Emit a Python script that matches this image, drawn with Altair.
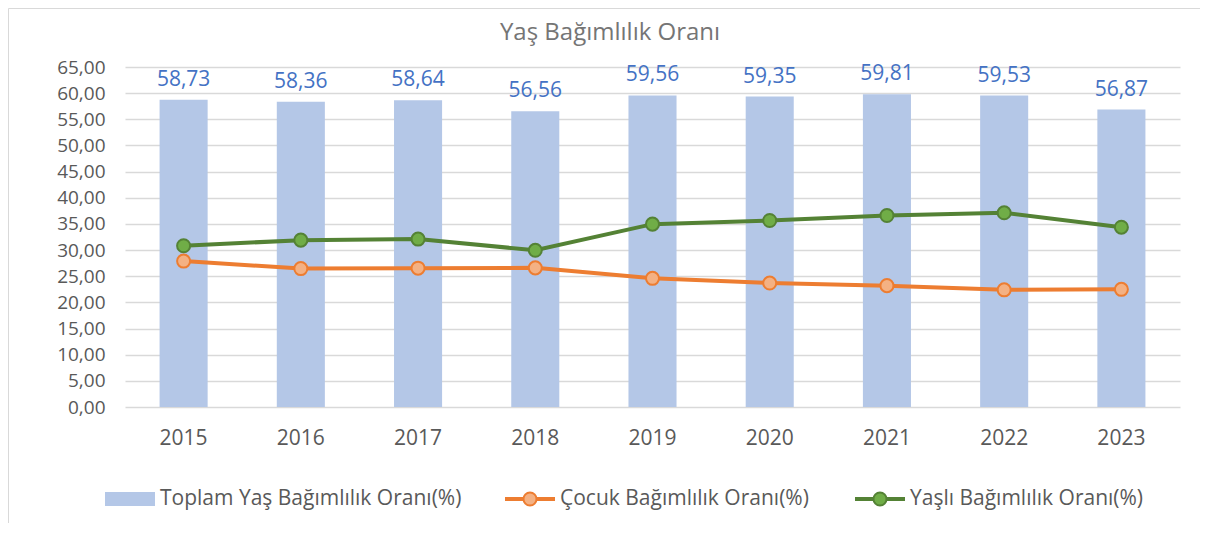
import altair as alt
import pandas as pd

years = ["2015", "2016", "2017", "2018", "2019", "2020", "2021", "2022", "2023"]
total = [58.73, 58.36, 58.64, 56.56, 59.56, 59.35, 59.81, 59.53, 56.87]
child = [27.90, 26.46, 26.54, 26.60, 24.60, 23.70, 23.20, 22.40, 22.50]
elderly = [30.83, 31.90, 32.10, 29.96, 34.96, 35.65, 36.61, 37.13, 34.37]
series_names = ["Toplam Yaş Bağımlılık Oranı(%)", "Çocuk Bağımlılık Oranı(%)", "Yaşlı Bağımlılık Oranı(%)"]
title_text = ["Yaş Bağımlılık Oranı"]
y_ticks = list(range(0, 66, 5))

FONT = "Open Sans"
GRAY = "#595959"
BAR = "#B4C7E7"
BLUE = "#4472C4"
ORANGE = "#ED7D31"
ORANGE_L = "#F4B183"
GREEN = "#548235"
GREEN_L = "#70AD47"

df = pd.DataFrame({"year": years, "total": total, "child": child, "elderly": elderly})
df["label"] = [f"{v:.2f}".replace(".", ",") for v in total]

W, H = 1055, 340

x_scale = alt.Scale(paddingInner=0.59, paddingOuter=0.295)
x_axis = alt.Axis(title=None, labelFontSize=21, labelColor=GRAY, labelFont=FONT,
                  labelPadding=20, ticks=False, domain=False, labelAngle=0, grid=False)
y_scale = alt.Scale(domain=[0, 65], nice=False)
y_axis = alt.Axis(title=None, values=y_ticks, labelFontSize=19, labelColor=GRAY, labelFont=FONT,
                  labelPadding=20, ticks=False, domain=False, grid=True, gridColor="#D9D9D9",
                  gridWidth=1.5, labelOverlap=False, labelBaseline="middle",
                  labelExpr="replace(format(datum.value, '.2f'), '.', ',')")

def xe():
    return alt.X("year:N", scale=x_scale, axis=x_axis)

def ye(field):
    return alt.Y(f"{field}:Q", scale=y_scale, axis=y_axis)

base = alt.Chart(df)

bars = base.mark_bar(color=BAR).encode(x=xe(), y=ye("total"))

bar_labels = base.mark_text(color=BLUE, fontSize=21, font=FONT, baseline="bottom", dy=-10).encode(
    x=xe(), y=ye("total"), text="label:N")

child_line = base.mark_line(color=ORANGE, strokeWidth=4).encode(x=xe(), y=ye("child"))
child_pts = base.mark_point(shape="circle", filled=True, fill=ORANGE_L, stroke=ORANGE,
                            strokeWidth=2, size=170, opacity=1).encode(x=xe(), y=ye("child"))
eld_line = base.mark_line(color=GREEN, strokeWidth=4).encode(x=xe(), y=ye("elderly"))
eld_pts = base.mark_point(shape="circle", filled=True, fill=GREEN_L, stroke=GREEN,
                          strokeWidth=2, size=170, opacity=1).encode(x=xe(), y=ye("elderly"))

# Title as text
tdf = pd.DataFrame({"t": title_text})
title = alt.Chart(tdf).mark_text(fontSize=24, font=FONT, color="#757575", align="center",
                                 baseline="middle").encode(
    x=alt.value(485), y=alt.value(-34), text="t:N")

# Manual legend
leg = pd.DataFrame({"name": series_names})
LY = 432
leg_rect = alt.Chart(leg.iloc[[0]]).mark_rect(color=BAR).encode(
    x=alt.value(-20), x2=alt.value(30), y=alt.value(LY - 7), y2=alt.value(LY + 7))
leg_t1 = alt.Chart(leg.iloc[[0]]).mark_text(align="left", baseline="middle", fontSize=21,
                                            font=FONT, color=GRAY).encode(
    x=alt.value(35), y=alt.value(LY), text="name:N")
leg_l2 = alt.Chart(leg.iloc[[1]]).mark_rule(color=ORANGE, strokeWidth=4).encode(
    x=alt.value(380), x2=alt.value(430), y=alt.value(LY))
leg_p2 = alt.Chart(leg.iloc[[1]]).mark_point(shape="circle", filled=True, fill=ORANGE_L, stroke=ORANGE,
                                             strokeWidth=2, size=170, opacity=1).encode(
    x=alt.value(405), y=alt.value(LY))
leg_t2 = alt.Chart(leg.iloc[[1]]).mark_text(align="left", baseline="middle", fontSize=21,
                                            font=FONT, color=GRAY).encode(
    x=alt.value(435), y=alt.value(LY), text="name:N")
leg_l3 = alt.Chart(leg.iloc[[2]]).mark_rule(color=GREEN, strokeWidth=4).encode(
    x=alt.value(730), x2=alt.value(780), y=alt.value(LY))
leg_p3 = alt.Chart(leg.iloc[[2]]).mark_point(shape="circle", filled=True, fill=GREEN_L, stroke=GREEN,
                                             strokeWidth=2, size=170, opacity=1).encode(
    x=alt.value(755), y=alt.value(LY))
leg_t3 = alt.Chart(leg.iloc[[2]]).mark_text(align="left", baseline="middle", fontSize=21,
                                            font=FONT, color=GRAY).encode(
    x=alt.value(785), y=alt.value(LY), text="name:N")

frame_l = alt.Chart(leg.iloc[[0]]).mark_rule(color="#D9D9D9", strokeWidth=1).encode(
    x=alt.value(-116.5), y=alt.value(-58.5), y2=alt.value(470))
frame_t = alt.Chart(leg.iloc[[0]]).mark_rule(color="#D9D9D9", strokeWidth=1).encode(
    x=alt.value(-116.5), x2=alt.value(1080), y=alt.value(-58.5))

chart = alt.layer(
    bars, bar_labels, child_line, child_pts, eld_line, eld_pts, title,
    leg_rect, leg_t1, leg_l2, leg_p2, leg_t2, leg_l3, leg_p3, leg_t3, frame_l, frame_t
).properties(
    width=W, height=H,
    background="white",
    autosize=alt.AutoSizeParams(type="none"),
    padding={"left": 117, "top": 59, "right": 20, "bottom": 116},
).configure_view(stroke="transparent", strokeWidth=0)

chart.save("out.html", embed_options={"renderer": "svg", "actions": False})
